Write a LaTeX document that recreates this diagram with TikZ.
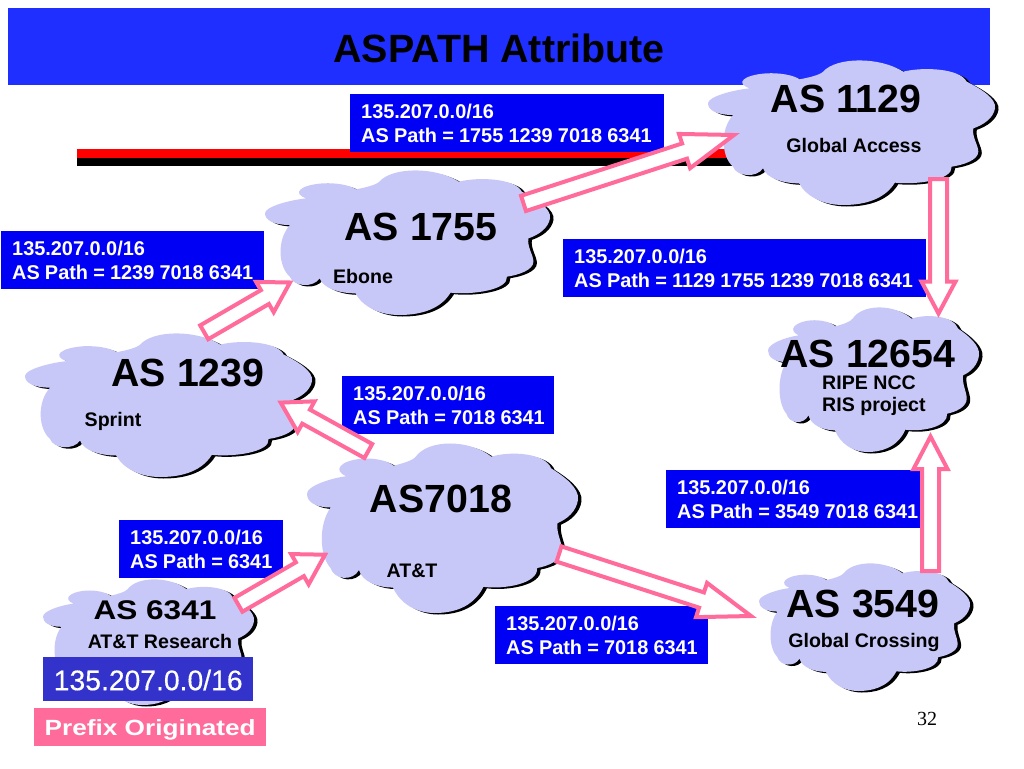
\documentclass[tikz,border=0pt]{standalone}
\usepackage{graphicx}
\usepackage{fontspec}
\setmainfont{Liberation Sans}
\newfontfamily\pagefont{Liberation Serif}
\newfontfamily\srcfont[FakeBold=0.4]{Liberation Sans}
\usetikzlibrary{calc}
\definecolor{barblue}{HTML}{1F2FFF}
\definecolor{boxblue}{HTML}{0000F5}
\definecolor{srcblue}{HTML}{3333CC}
\definecolor{cloudfill}{HTML}{C8C8F8}
\definecolor{arrowpink}{HTML}{FF6C9C}
\newcommand{\cloudoutline}{(225,250) .. controls (225,230) and (300,210) .. (350,205)
 .. controls (305,190) and (330,165) .. (400,160)
 .. controls (440,158) and (480,165) .. (500,178)
 .. controls (530,172) and (560,165) .. (570,155)
 .. controls (610,110) and (740,110) .. (810,155)
 .. controls (870,140) and (980,145) .. (1000,185)
 .. controls (1040,205) and (1090,235) .. (1085,265)
 .. controls (1080,295) and (1050,315) .. (1020,325)
 .. controls (1015,350) and (1035,375) .. (1035,395)
 .. controls (1035,420) and (990,435) .. (955,440)
 .. controls (960,480) and (850,495) .. (785,488)
 .. controls (750,545) and (680,555) .. (630,555)
 .. controls (570,555) and (520,530) .. (498,490)
 .. controls (450,490) and (400,475) .. (390,445)
 .. controls (370,475) and (310,470) .. (300,440)
 .. controls (265,410) and (260,330) .. (300,285)
 .. controls (250,285) and (225,270) .. (225,250) -- cycle}
% x, y, w, h
\newcommand{\ascloud}[4]{%
 \begin{scope}[shift={(#1+3.5,#2+1.5)},xscale=#3/860,yscale=#4/435,shift={(-225,-120)}]
  \fill[black] \cloudoutline;
 \end{scope}
 \begin{scope}[shift={(#1,#2)},xscale=#3/860,yscale=#4/435,shift={(-225,-120)}]
  \fill[cloudfill] \cloudoutline;
 \end{scope}}
% tail, tip, shaft half width, head half width, head length
\newcommand{\blockarrow}[5]{%
 \coordinate (H) at ($(#2)!#5pt!(#1)$);
 \draw[blockarr] ($(#1)!#3pt!90:(#2)$) -- ($(H)!#3pt!90:(#2)$) -- ($(H)!#4pt!90:(#2)$) -- (#2)
   -- ($(H)!#4pt!-90:(#2)$) -- ($(H)!#3pt!-90:(#2)$) -- ($(#1)!#3pt!-90:(#2)$) -- cycle;}
\newcommand{\pathlabel}[1]{\spaceskip=0.26em\mbox{135.207.0.0/16}\\\mbox{AS Path = #1}}
\tikzset{
 blockarr/.style={draw=arrowpink,fill=white,line width=4pt,miter limit=10},
 labelbox/.style={fill=boxblue,text=white,anchor=north west,inner xsep=11pt,inner ysep=0pt,align=left,
   font=\bfseries\fontsize{19.9}{24}\selectfont,minimum height=58pt},
 asname/.style={font=\bfseries\fontsize{39.3}{42}\selectfont,inner sep=0pt},
 orgname/.style={font=\bfseries\fontsize{19.6}{22}\selectfont,inner sep=0pt,align=left},
}
\begin{document}
\begin{tikzpicture}[x=1pt,y=-1pt]
\useasboundingbox (0,0) rectangle (1024,768);
\fill[white] (0,0) rectangle (1024,768);
\node[fill=barblue,minimum width=982pt,minimum height=77pt,inner sep=0pt,anchor=north west] (bar) at (8,8) {};
\node[font=\bfseries\fontsize{39.4}{42}\selectfont,inner sep=0pt] (title) at (499,48) {ASPATH Attribute};
\node[fill=red,minimum width=660pt,minimum height=9pt,inner sep=0pt,anchor=north west] (redline) at (77,149) {};
\node[fill=black,minimum width=660pt,minimum height=8pt,inner sep=0pt,anchor=north west] (blackline) at (77,158) {};

\ascloud{708}{60}{287}{145}
\ascloud{265}{170}{285}{145}
\ascloud{768}{307}{211}{145}
\ascloud{25}{333}{287}{144}
\ascloud{307}{443}{271}{170}
\ascloud{759}{563}{211}{128}
\ascloud{43}{579}{211}{126}

\node[labelbox,text width=292pt] (l1129) at (350,94) {\pathlabel{1755 1239 7018 6341}};
\node[labelbox,text width=241pt] (l1755) at (1,231) {\pathlabel{1239 7018 6341}};
\node[labelbox,text width=341pt] (l12654a) at (563,239) {\pathlabel{1129 1755 1239 7018 6341}};
\node[labelbox,text width=190pt] (l1239) at (342,376) {\pathlabel{7018 6341}};
\node[labelbox,text width=232pt] (l12654b) at (666,470) {\pathlabel{3549 7018 6341}};
\node[labelbox,text width=142pt] (l7018) at (119,520) {\pathlabel{6341}};
\node[labelbox,text width=191pt] (l3549) at (495,606) {\pathlabel{7018 6341}};

\node[asname] (n1129) at (846,99) {AS 1129};
\node[orgname] (o1129) at (854,145) {Global Access};
\node[asname] (n1755) at (421,227) {AS 1755};
\node[orgname] (o1755) at (363,276) {Ebone};
\node[asname] (n1239) at (188,373) {AS 1239};
\node[orgname] (o1239) at (113,421) {Sprint};
\node[asname] (n7018) at (441,499) {AS7018};
\node[orgname] (o7018) at (412,571) {AT\&T};
\node[asname] (n12654) at (868,354) {AS 12654};
\node[orgname,anchor=north west] (o12654) at (822,376) {RIPE NCC\\RIS project};
\node[asname] (n3549) at (863,604) {AS 3549};
\node[orgname] (o3549) at (864,642) {Global Crossing};
\node[font=\bfseries\fontsize{27}{30}\selectfont,inner sep=0pt] (n6341) at (155,610) {\scalebox{1.17}[1]{AS 6341}};
\node[orgname] (o6341) at (160,641) {AT\&T Research};

\node[fill=srcblue,text=white,minimum width=210pt,minimum height=44pt,inner sep=0pt,anchor=north west,font=\srcfont\fontsize{28.3}{30}\selectfont] (src) at (43,657) {\smash{\raisebox{-11pt}{135.207.0.0/16}}};
\node[fill=arrowpink,text=white,minimum width=232pt,minimum height=38pt,inner sep=0pt,anchor=north west,font=\bfseries\fontsize{22}{24}\selectfont] (prefix) at (34,708) {\smash{\raisebox{-8pt}{\scalebox{1.19}[1]{Prefix Originated}}}};
\node[font=\pagefont\fontsize{20}{22}\selectfont,inner sep=0pt] (page) at (927,719) {32};

\coordinate (a1t) at (238.4,604.8); \coordinate (a1h) at (325,554.7);
\coordinate (a2t) at (204.2,332.3); \coordinate (a2h) at (290,282.5);
\coordinate (a3t) at (523.5,203.4); \coordinate (a3h) at (734,135);
\coordinate (a4t) at (938.5,179); \coordinate (a4h) at (938.5,313.5);
\coordinate (a5t) at (368.3,451); \coordinate (a5h) at (280.7,402.6);
\coordinate (a6t) at (559,554); \coordinate (a6h) at (751,616);
\coordinate (a7t) at (930.5,571); \coordinate (a7h) at (930.5,436.5);
\blockarrow{a1t}{a1h}{8}{17.5}{29}
\blockarrow{a2t}{a2h}{8}{17.5}{29}
\blockarrow{a3t}{a3h}{8}{18}{52}
\blockarrow{a4t}{a4h}{8.5}{17}{32}
\blockarrow{a5t}{a5h}{8}{17.5}{29}
\blockarrow{a6t}{a6h}{8}{18}{52}
\blockarrow{a7t}{a7h}{8.5}{17}{32.5}
\end{tikzpicture}
\end{document}
